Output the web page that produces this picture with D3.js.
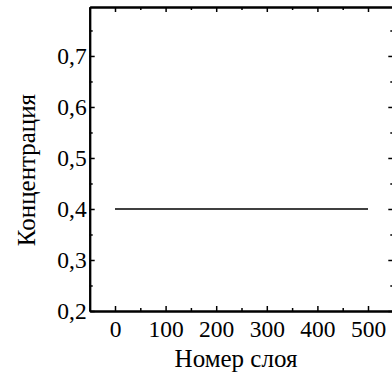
<!DOCTYPE html>
<html>
<head>
<meta charset="utf-8">
<script src="https://cdn.jsdelivr.net/npm/d3@7"></script>
<style>
  body { margin: 0; background: #fff; }
  text { font-family: "Liberation Serif", "Times New Roman", serif; fill: #000; }
</style>
</head>
<body>
<svg id="chart"></svg>
<script>
  var svgW = 392,
      svgH = 374;

  // data
  var layers = [0, 500];          // номер слоя
  var concentration = [0.4, 0.4]; // концентрация
  var xTicks = [0, 100, 200, 300, 400, 500];
  var xMinor = [-50, 50, 150, 250, 350, 450, 550];
  var yTicks = [0.2, 0.3, 0.4, 0.5, 0.6, 0.7];
  var yMinor = [0.25, 0.35, 0.45, 0.55, 0.65, 0.75];

  var padL = 89.7, padR = 393.3, padT = 7, padB = 311; // plot box edges

  var x = d3.scaleLinear().domain([-50, 550]).range([padL, padR]);
  var y = d3.scaleLinear().domain([0.2, 0.796]).range([padB, padT]);

  var ru = d3.formatLocale({decimal: ",", thousands: " ", grouping: [3], currency: ["", ""]});
  var fy = ru.format(".1f");

  var svg = d3.select("#chart").attr("width", svgW).attr("height", svgH);

  // bottom axis, labels + ticks inward
  var gb = svg.append("g").attr("transform", "translate(0," + padB + ")");
  gb.call(d3.axisBottom(x).tickValues(xTicks).tickSizeInner(-5).tickSizeOuter(0).tickPadding(9));
  gb.append("g").call(d3.axisBottom(x).tickValues(xMinor).tickSizeInner(-3).tickSizeOuter(0).tickFormat(""));

  // top axis, no labels
  var gt = svg.append("g").attr("transform", "translate(0," + padT + ")");
  gt.call(d3.axisTop(x).tickValues(xTicks).tickSizeInner(-5).tickSizeOuter(0).tickFormat(""));
  gt.append("g").call(d3.axisTop(x).tickValues(xMinor).tickSizeInner(-3).tickSizeOuter(0).tickFormat(""));

  // left axis
  var gl = svg.append("g").attr("transform", "translate(" + padL + ",0)");
  gl.call(d3.axisLeft(y).tickValues(yTicks).tickSizeInner(-5).tickSizeOuter(0).tickPadding(3).tickFormat(fy));
  gl.append("g").call(d3.axisLeft(y).tickValues(yMinor).tickSizeInner(-3).tickSizeOuter(0).tickFormat(""));

  // right axis
  var gr = svg.append("g").attr("transform", "translate(" + padR + ",0)");
  gr.call(d3.axisRight(y).tickValues(yTicks).tickSizeInner(-5).tickSizeOuter(0).tickFormat(""));
  gr.append("g").call(d3.axisRight(y).tickValues(yMinor).tickSizeInner(-3).tickSizeOuter(0).tickFormat(""));

  svg.selectAll(".domain").attr("stroke", "#000").attr("stroke-width", 2);
  svg.selectAll(".tick line").attr("stroke", "#000").attr("stroke-width", 1.5);
  svg.selectAll(".tick text").style("font-family", "Liberation Serif").style("font-size", "23.5px").attr("fill", "#000");

  // data line
  var pts = layers.map(function(d, i) { return [d, concentration[i]]; });
  svg.append("path")
    .datum(pts)
    .attr("fill", "none")
    .attr("stroke", "#000")
    .attr("stroke-width", 1.5)
    .attr("d", d3.line().x(function(d) { return x(d[0]); }).y(function(d) { return y(d[1]); }));

  // axis titles
  svg.append("text")
    .attr("x", 236)
    .attr("y", 367)
    .attr("text-anchor", "middle")
    .style("font-size", "25px")
    .text("Номер слоя");

  svg.append("text")
    .attr("transform", "translate(35,170) rotate(-90)")
    .attr("text-anchor", "middle")
    .style("font-size", "25px")
    .text("Концентрация");
</script>
</body>
</html>
